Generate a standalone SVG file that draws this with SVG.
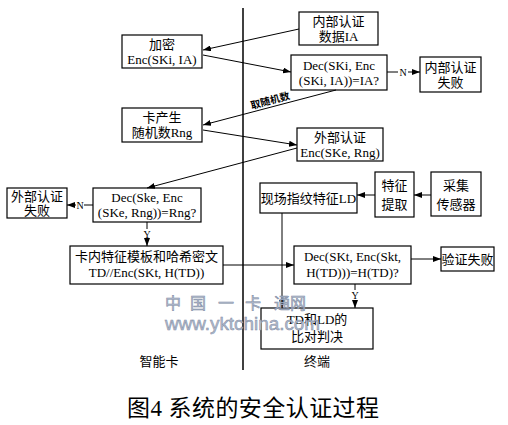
<svg xmlns="http://www.w3.org/2000/svg" width="508" height="425" viewBox="0 0 508 425">
<defs>
<marker id="ah" viewBox="0 0 8 6" refX="8" refY="3" markerWidth="8" markerHeight="6" markerUnits="userSpaceOnUse" orient="auto">
<path d="M0,0 L8,3 L0,6 z" fill="#000"/>
</marker>
<style>
.b{fill:#fff;stroke:#000;stroke-width:1.2}
.t{font-family:"Liberation Serif","Noto Sans CJK SC",serif;font-size:13px;fill:#000;text-anchor:middle}
.s{font-family:"Liberation Serif","Noto Sans CJK SC",serif;font-size:10px;fill:#000;text-anchor:middle}
.l{fill:none;stroke:#000;stroke-width:1}
.a{fill:none;stroke:#000;stroke-width:1;marker-end:url(#ah)}
.wm{font-family:"Liberation Sans","Noto Sans CJK SC",sans-serif;fill:#b3bccd;stroke:#7f8ca5;stroke-width:0.5}
</style>
</defs>
<rect width="508" height="425" fill="#fff"/>
<line x1="243" y1="8" x2="243" y2="370" stroke="#000" stroke-width="1.5"/>

<g id="nodes">
<g id="ia-data"><rect class="b" x="299" y="12" width="79" height="33"/><text class="t" x="338.5" y="26">内部认证</text><text class="t" x="338.5" y="41">数据IA</text></g>
<g id="enc-ski"><rect class="b" x="122" y="35" width="80" height="33"/><text class="t" x="162" y="49">加密</text><text class="t" x="162" y="64">Enc(SKi, IA)</text></g>
<g id="dec-ski"><rect class="b" x="291" y="55" width="96" height="35"/><text class="t" x="339" y="70">Dec(SKi, Enc</text><text class="t" x="339" y="85">(SKi, IA))=IA?</text></g>
<g id="int-fail"><rect class="b" x="420" y="57" width="61" height="35"/><text class="t" x="450.5" y="72">内部认证</text><text class="t" x="450.5" y="87">失败</text></g>
<g id="card-rng"><rect class="b" x="122" y="108" width="80" height="34"/><text class="t" x="162" y="122">卡产生</text><text class="t" x="162" y="137">随机数Rng</text></g>
<g id="ext-auth"><rect class="b" x="297" y="128" width="86" height="33"/><text class="t" x="340" y="142">外部认证</text><text class="t" x="340" y="157">Enc(SKe, Rng)</text></g>
<g id="ext-fail"><rect class="b" x="7" y="188" width="60" height="30"/><text class="t" x="37" y="201">外部认证</text><text class="t" x="37" y="215">失败</text></g>
<g id="dec-ske"><rect class="b" x="93" y="188" width="108" height="34"/><text class="t" x="147" y="202">Dec(Ske, Enc</text><text class="t" x="147" y="217">(SKe, Rng))=Rng?</text></g>
<g id="ld"><rect class="b" x="260" y="183" width="97" height="30"/><text class="t" x="308.5" y="202.5">现场指纹特征LD</text></g>
<g id="extract"><rect class="b" x="375" y="172" width="39" height="45"/><text class="t" x="394.5" y="190">特征</text><text class="t" x="394.5" y="209">提取</text></g>
<g id="sensor"><rect class="b" x="431" y="172" width="50" height="44"/><text class="t" x="456" y="190">采集</text><text class="t" x="456" y="209">传感器</text></g>
<g id="card-td"><rect class="b" x="70" y="246" width="153" height="38"/><text class="t" x="146.5" y="261">卡内特征模板和哈希密文</text><text class="t" x="146.5" y="277">TD//Enc(SKt, H(TD))</text></g>
<g id="dec-skt"><rect class="b" x="294" y="246" width="117" height="38"/><text class="t" x="352.5" y="261">Dec(SKt, Enc(Skt,</text><text class="t" x="352.5" y="277">H(TD)))=H(TD)?</text></g>
<g id="ver-fail"><rect class="b" x="441" y="247" width="53" height="24"/><text class="t" x="467.5" y="263.5">验证失败</text></g>
<g id="compare"><rect class="b" x="261" y="308" width="112" height="41"/><text class="t" x="317" y="324">TD和LD的</text><text class="t" x="317" y="341">比对判决</text></g>
</g>

<g id="connectors">
<line class="a" x1="299" y1="29" x2="203" y2="50"/>
<line class="a" x1="203" y1="55" x2="291" y2="72"/>
<line class="a" x1="336" y1="90" x2="203" y2="125"/>
<text class="s" font-weight="bold" transform="translate(271,104) rotate(-15)">取随机数</text>
<line class="a" x1="203" y1="130" x2="297" y2="145"/>
<line class="a" x1="297" y1="148" x2="147" y2="188"/>
<line class="l" x1="93" y1="205" x2="84" y2="205"/>
<text class="s" x="80" y="209">N</text>
<line class="a" x1="76" y1="205" x2="67" y2="205"/>
<line class="l" x1="387" y1="72" x2="398" y2="72"/>
<text class="s" x="403" y="76">N</text>
<line class="a" x1="408" y1="72" x2="420" y2="72"/>
<line class="l" x1="147" y1="222" x2="147" y2="229"/>
<text class="s" x="147" y="238">Y</text>
<line class="a" x1="147" y1="239" x2="147" y2="246"/>
<line class="a" x1="223" y1="265" x2="294" y2="265"/>
<line class="a" x1="282" y1="213" x2="282" y2="308"/>
<line class="l" x1="355" y1="284" x2="355" y2="290"/>
<text class="s" x="355" y="299">Y</text>
<line class="a" x1="355" y1="300" x2="355" y2="308"/>
<line class="a" x1="411" y1="259" x2="441" y2="259"/>
<line class="a" x1="431" y1="195" x2="414" y2="195"/>
<line class="a" x1="375" y1="195" x2="357" y2="195"/>
</g>

<text class="wm" x="173" y="309" font-size="16" text-anchor="middle">中</text>
<text class="wm" x="198" y="309" font-size="16" text-anchor="middle">国</text>
<text class="wm" x="226" y="309" font-size="16" text-anchor="middle">一</text>
<text class="wm" x="253" y="309" font-size="16" text-anchor="middle">卡</text>
<text class="wm" x="290" y="309" font-size="16" text-anchor="middle">通网</text>
<text class="wm" x="165" y="330" font-size="19" textLength="155" lengthAdjust="spacingAndGlyphs">www.yktchina.com</text>

<text class="t" x="159" y="366">智能卡</text>
<text class="t" x="317" y="366">终端</text>
<text x="127" y="416" font-family="Liberation Serif, Noto Sans CJK SC, serif" font-size="23" fill="#000" textLength="252" lengthAdjust="spacing">图4 系统的安全认证过程</text>
</svg>
